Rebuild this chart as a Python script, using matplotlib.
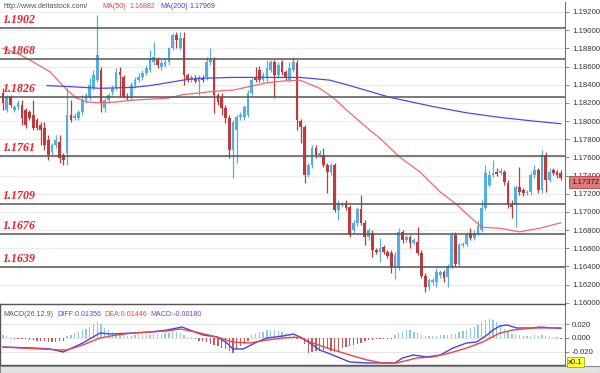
import matplotlib
matplotlib.use('Agg')
import matplotlib.pyplot as plt
import numpy as np

plt.rcParams['axes.unicode_minus'] = False

# ---- candle data (EUR/USD style, one row = 10 candles) ----
opens = [
    1.1831, 1.1812, 1.1826, 1.1812, 1.1815, 1.1818, 1.1812, 1.1810, 1.1807, 1.1801,
    1.1796, 1.1792, 1.1779, 1.1766, 1.1774, 1.1777, 1.1763, 1.1765, 1.1807, 1.1803,
    1.1803, 1.1810, 1.1823, 1.1826, 1.1836, 1.1845, 1.1856, 1.1814, 1.1823, 1.1832,
    1.1836, 1.1854, 1.1848, 1.1826, 1.1826, 1.1840, 1.1845, 1.1848, 1.1853, 1.1856,
    1.1865, 1.1867, 1.1859, 1.1862, 1.1865, 1.1880, 1.1895, 1.1880, 1.1891, 1.1851,
    1.1845, 1.1847, 1.1843, 1.1847, 1.1848, 1.1865, 1.1867, 1.1829, 1.1826, 1.1814,
    1.1803, 1.1768, 1.1790, 1.1804, 1.1804, 1.1807, 1.1831, 1.1847, 1.1856, 1.1845,
    1.1847, 1.1856, 1.1865, 1.1851, 1.1865, 1.1854, 1.1845, 1.1856, 1.1864, 1.1800,
    1.1793, 1.1741, 1.1752, 1.1770, 1.1763, 1.1763, 1.1752, 1.1744, 1.1752, 1.1702,
    1.1708, 1.1710, 1.1705, 1.1680, 1.1688, 1.1703, 1.1688, 1.1672, 1.1677, 1.1658,
    1.1656, 1.1661, 1.1656, 1.1655, 1.1638, 1.1639, 1.1678, 1.1669, 1.1672, 1.1666,
    1.1667, 1.1655, 1.1629, 1.1617, 1.1623, 1.1623, 1.1630, 1.1634, 1.1628, 1.1640,
    1.1674, 1.1643, 1.1664, 1.1665, 1.1677, 1.1671, 1.1677, 1.1680, 1.1704, 1.1730,
    1.1741, 1.1744, 1.1743, 1.1744, 1.1732, 1.1708, 1.1708, 1.1727, 1.1724, 1.1721,
    1.1722, 1.1741, 1.1746, 1.1724, 1.1763, 1.1735, 1.1746, 1.1744, 1.1743,
]
highs = [
    1.1836, 1.1829, 1.1829, 1.1818, 1.1823, 1.1823, 1.1814, 1.1812, 1.1823, 1.1803,
    1.1799, 1.1799, 1.1785, 1.1776, 1.1785, 1.1785, 1.1765, 1.1836, 1.1823, 1.1809,
    1.1812, 1.1829, 1.1831, 1.1847, 1.1856, 1.1917, 1.1859, 1.1825, 1.1831, 1.1840,
    1.1858, 1.1859, 1.1851, 1.1831, 1.1843, 1.1848, 1.1853, 1.1856, 1.1862, 1.1878,
    1.1887, 1.1871, 1.1867, 1.1869, 1.1881, 1.1897, 1.1898, 1.1898, 1.1898, 1.1853,
    1.1851, 1.1851, 1.1851, 1.1851, 1.1871, 1.1880, 1.1871, 1.1831, 1.1831, 1.1818,
    1.1807, 1.1801, 1.1807, 1.1810, 1.1818, 1.1834, 1.1847, 1.1859, 1.1861, 1.1854,
    1.1867, 1.1867, 1.1867, 1.1865, 1.1867, 1.1856, 1.1865, 1.1871, 1.1867, 1.1802,
    1.1796, 1.1754, 1.1774, 1.1774, 1.1768, 1.1770, 1.1754, 1.1754, 1.1754, 1.1713,
    1.1711, 1.1713, 1.1708, 1.1691, 1.1705, 1.1719, 1.1691, 1.1682, 1.1680, 1.1660,
    1.1671, 1.1664, 1.1658, 1.1658, 1.1656, 1.1682, 1.1680, 1.1674, 1.1674, 1.1671,
    1.1683, 1.1658, 1.1633, 1.1627, 1.1627, 1.1638, 1.1636, 1.1636, 1.1643, 1.1678,
    1.1678, 1.1666, 1.1667, 1.1678, 1.1682, 1.1680, 1.1691, 1.1713, 1.1752, 1.1746,
    1.1757, 1.1748, 1.1748, 1.1746, 1.1735, 1.1713, 1.1730, 1.1749, 1.1726, 1.1724,
    1.1744, 1.1752, 1.1748, 1.1768, 1.1766, 1.1748, 1.1748, 1.1746, 1.1746,
]
lows = [
    1.1812, 1.1810, 1.1815, 1.1810, 1.1812, 1.1796, 1.1792, 1.1801, 1.1790, 1.1790,
    1.1774, 1.1768, 1.1757, 1.1763, 1.1770, 1.1754, 1.1752, 1.1752, 1.1799, 1.1801,
    1.1801, 1.1807, 1.1820, 1.1823, 1.1834, 1.1843, 1.1810, 1.1810, 1.1820, 1.1829,
    1.1834, 1.1826, 1.1825, 1.1823, 1.1823, 1.1836, 1.1843, 1.1845, 1.1851, 1.1854,
    1.1862, 1.1858, 1.1856, 1.1859, 1.1862, 1.1878, 1.1880, 1.1878, 1.1840, 1.1843,
    1.1843, 1.1842, 1.1829, 1.1843, 1.1845, 1.1862, 1.1809, 1.1818, 1.1807, 1.1798,
    1.1759, 1.1737, 1.1754, 1.1801, 1.1801, 1.1804, 1.1829, 1.1843, 1.1843, 1.1843,
    1.1842, 1.1854, 1.1825, 1.1847, 1.1851, 1.1845, 1.1843, 1.1854, 1.1790, 1.1776,
    1.1732, 1.1738, 1.1748, 1.1759, 1.1760, 1.1749, 1.1721, 1.1741, 1.1700, 1.1691,
    1.1705, 1.1702, 1.1672, 1.1677, 1.1684, 1.1686, 1.1664, 1.1669, 1.1650, 1.1654,
    1.1645, 1.1654, 1.1649, 1.1633, 1.1626, 1.1636, 1.1666, 1.1667, 1.1660, 1.1664,
    1.1653, 1.1627, 1.1612, 1.1614, 1.1620, 1.1617, 1.1627, 1.1623, 1.1617, 1.1638,
    1.1640, 1.1640, 1.1661, 1.1662, 1.1669, 1.1669, 1.1674, 1.1678, 1.1702, 1.1727,
    1.1738, 1.1739, 1.1741, 1.1730, 1.1704, 1.1693, 1.1683, 1.1719, 1.1718, 1.1719,
    1.1719, 1.1737, 1.1721, 1.1721, 1.1722, 1.1733, 1.1741, 1.1737, 1.1735,
]
closes = [
    1.1820, 1.1826, 1.1818, 1.1815, 1.1820, 1.1803, 1.1796, 1.1803, 1.1792, 1.1792,
    1.1790, 1.1774, 1.1763, 1.1774, 1.1779, 1.1759, 1.1757, 1.1807, 1.1801, 1.1806,
    1.1810, 1.1823, 1.1829, 1.1840, 1.1851, 1.1873, 1.1820, 1.1823, 1.1829, 1.1836,
    1.1854, 1.1851, 1.1826, 1.1825, 1.1840, 1.1845, 1.1848, 1.1853, 1.1858, 1.1869,
    1.1871, 1.1862, 1.1864, 1.1865, 1.1880, 1.1895, 1.1889, 1.1891, 1.1851, 1.1845,
    1.1848, 1.1844, 1.1848, 1.1845, 1.1865, 1.1867, 1.1829, 1.1821, 1.1814, 1.1803,
    1.1768, 1.1799, 1.1804, 1.1807, 1.1815, 1.1831, 1.1845, 1.1845, 1.1845, 1.1851,
    1.1858, 1.1865, 1.1851, 1.1862, 1.1854, 1.1847, 1.1858, 1.1865, 1.1801, 1.1793,
    1.1741, 1.1752, 1.1770, 1.1763, 1.1765, 1.1752, 1.1744, 1.1752, 1.1702, 1.1710,
    1.1709, 1.1704, 1.1674, 1.1688, 1.1703, 1.1688, 1.1672, 1.1680, 1.1658, 1.1656,
    1.1660, 1.1656, 1.1651, 1.1638, 1.1653, 1.1678, 1.1669, 1.1672, 1.1666, 1.1669,
    1.1655, 1.1629, 1.1617, 1.1625, 1.1625, 1.1634, 1.1634, 1.1627, 1.1640, 1.1674,
    1.1643, 1.1664, 1.1665, 1.1674, 1.1671, 1.1677, 1.1684, 1.1704, 1.1743, 1.1741,
    1.1743, 1.1742, 1.1745, 1.1733, 1.1708, 1.1705, 1.1727, 1.1722, 1.1721, 1.1722,
    1.1741, 1.1746, 1.1724, 1.1763, 1.1735, 1.1744, 1.1743, 1.1741, 1.1737,
]

# moving averages (candle index, price)
ma50_idx = [0, 4.5, 8, 12.5, 17, 19.6, 22.3, 25.7, 30.2, 34.5, 39, 43.5, 47.7, 52.3,
            56.8, 61, 65.5, 70, 74.3, 78.8, 84, 87.5, 92, 97.3, 100, 105.3, 110.6,
            116, 120.4, 124, 127, 131.8, 137, 142.4, 148]
ma50_val = [1.1880, 1.1873, 1.1865, 1.1854, 1.1834, 1.1825, 1.1821, 1.1820, 1.1821,
            1.1823, 1.1824, 1.1825, 1.1829, 1.1831, 1.1833, 1.1834, 1.1838, 1.1842,
            1.1844, 1.1845, 1.1836, 1.1826, 1.1809, 1.1790, 1.1781, 1.1760, 1.1744,
            1.1722, 1.1708, 1.1694, 1.1683, 1.1682, 1.1678, 1.1682, 1.1688]
ma200_idx = [11.7, 17, 25.7, 34.5, 39, 43.5, 47.7, 52.3, 61, 78.8, 86.7, 92, 102.7,
             114, 123, 131.8, 140.6, 148]
ma200_val = [1.1839, 1.1838, 1.1836, 1.1837, 1.1839, 1.1842, 1.1845, 1.1847, 1.1848,
             1.1848, 1.1845, 1.1839, 1.1826, 1.1816, 1.1809, 1.1804, 1.1800, 1.1797]

levels = [1.1902, 1.1868, 1.1826, 1.1761, 1.1709, 1.1676, 1.1639]
price_ticks = [1.160, 1.162, 1.164, 1.166, 1.168, 1.170, 1.172, 1.174, 1.176,
               1.178, 1.180, 1.182, 1.184, 1.186, 1.188, 1.190, 1.192]
last_price = 1.17372

# MACD panel
macd_hist = [
    0.004, 0.003, 0.001, -0.001, -0.001, -0.001, -0.002, -0.003, -0.003, -0.004,
    -0.004, -0.005, -0.006, -0.006, -0.006, -0.005, -0.004, 0.003, 0.005, 0.007,
    0.009, 0.011, 0.013, 0.016, 0.019, 0.023, 0.020, 0.014, 0.011, 0.008,
    0.006, 0.005, 0.004, 0.003, 0.003, 0.004, 0.004, 0.004, 0.005, 0.005,
    0.006, 0.006, 0.006, 0.007, 0.007, 0.008, 0.008, 0.007, 0.004, 0.002,
    0.001, -0.002, -0.004, -0.005, -0.006, -0.008, -0.010, -0.012, -0.014, -0.016,
    -0.018, -0.022, -0.016, -0.012, -0.008, -0.005, 0.004, 0.006, 0.008, 0.009,
    0.011, 0.012, 0.011, 0.010, 0.009, 0.007, 0.005, 0.003, -0.002, -0.002,
    -0.008, -0.021, -0.020, -0.019, -0.018, -0.017, -0.016, -0.018, -0.020, -0.018,
    -0.014, -0.013, -0.012, -0.010, -0.008, -0.007, -0.005, -0.003, -0.003, -0.002,
    -0.002, -0.002, -0.001, -0.001, 0.004, 0.007, 0.009, 0.011, 0.011, 0.009,
    0.007, 0.004, 0.003, 0.003, 0.003, 0.003, 0.004, 0.005, 0.005, 0.006,
    0.006, 0.008, 0.010, 0.012, 0.014, 0.016, 0.019, 0.022, 0.026, 0.027,
    0.026, 0.023, 0.018, 0.013, 0.009, 0.006, 0.005, 0.004, 0.003, 0.003,
    0.003, 0.004, 0.003, 0.004, 0.003, 0.003, 0.002, 0.001, -0.0018,
]
diff_idx = [0, 8, 12.5, 16, 21.2, 25.7, 28.4, 34.5, 39, 43.5, 47.5, 49.6, 53, 56.8,
            59.4, 61, 63.7, 67.4, 70, 74.3, 77, 78.8, 81.4, 84, 87.5, 92, 96.6,
            100.8, 104, 106, 108.8, 112.5, 116, 119.4, 123, 125.7, 128.4, 130,
            131.8, 133.7, 136.3, 140.6, 142.4, 148]
diff_val = [-0.0129, -0.0143, -0.0157, -0.0200, -0.0071, 0.0071, 0.0057, 0.0071,
            0.0086, 0.0114, 0.0157, 0.0114, 0.0043, 0.0014, -0.0071, -0.0157,
            -0.0157, -0.0057, 0.0000, 0.0029, 0.0057, 0.0014, -0.0071, -0.0171,
            -0.0243, -0.0343, -0.0357, -0.0357, -0.0357, -0.0286, -0.0243, -0.0271,
            -0.0243, -0.0143, -0.0071, -0.0057, 0.0043, 0.0114, 0.0171, 0.0186,
            0.0143, 0.0143, 0.0157, 0.0136]
dea_idx = [0, 15.1, 17, 21.2, 25.7, 30.2, 34.5, 43.5, 47, 52.3, 56.8, 61, 65.5, 70,
           74.3, 78.8, 81.4, 86, 92, 96.6, 100.8, 104.5, 109.8, 114, 118.6, 123,
           127.3, 131.8, 135.3, 140.6, 148]
dea_val = [-0.0129, -0.0171, -0.0171, -0.0100, 0.0000, 0.0043, 0.0071, 0.0100,
           0.0129, 0.0071, 0.0014, -0.0057, -0.0071, -0.0029, 0.0000, 0.0014,
           -0.0057, -0.0143, -0.0243, -0.0314, -0.0357, -0.0357, -0.0286, -0.0271,
           -0.0214, -0.0143, -0.0057, 0.0071, 0.0114, 0.0143, 0.0145]
macd_ticks = [-0.02, 0.0, 0.02]

UP = '#55aee2'
DOWN = '#c0393b'
W, H = 600, 373
SMALL = dict(fontsize=5.1, family='Liberation Sans', va='center', ha='left')

fig = plt.figure(figsize=(6, 3.73), dpi=100)
fig.patch.set_facecolor('white')

# ---------------- main price panel ----------------
ax = fig.add_axes([0, (H - 303) / H, 565 / W, 301 / H])
x = np.arange(len(closes))
o = np.array(opens); c = np.array(closes)
hi = np.array(highs); lo = np.array(lows)
up = c >= o
col = np.where(up, UP, DOWN)

for t in price_ticks:
    ax.axhline(t, color='#ececec', lw=0.8, zorder=0)

ax.vlines(x, lo, hi, colors=col, lw=0.9, zorder=2)
body_h = np.maximum(np.abs(c - o), 0.00006)
ax.bar(x, body_h, bottom=np.minimum(o, c), width=0.72, color=col, lw=0, zorder=3)

ax.plot(ma50_idx, ma50_val, color='#f06a6a', lw=0.9, zorder=4)
ax.plot(ma200_idx, ma200_val, color='#4a4af0', lw=0.9, zorder=4)

for lv in levels:
    ax.axhline(lv, color='#555555', lw=1.1, zorder=5)
    ax.text(0.004, lv + 0.00022, f'{lv:.4f}', color='#ee1c24', fontsize=8.6,
            fontweight='bold', fontstyle='italic', family='Liberation Serif',
            va='bottom', ha='left', transform=ax.get_yaxis_transform(),
            zorder=6)

ax.set_xlim(-0.8, 149.1)
ax.set_ylim(1.15997, 1.1931)
ax.yaxis.tick_right()
ax.set_yticks(price_ticks)
ax.set_yticklabels([f'{t:.5f}' for t in price_ticks])
ax.tick_params(axis='y', length=3, width=0.6, color='#777777', labelsize=5.6,
               labelcolor='#333333', pad=2)
for lab in ax.get_yticklabels():
    lab.set_family('Liberation Sans')
ax.set_xticks([])
for s in ['top', 'left', 'bottom']:
    ax.spines[s].set_visible(False)
ax.spines['right'].set_color('#777777')
ax.spines['right'].set_linewidth(0.8)

# last price tag, sitting just under the price level like the original
ax.annotate(f'{last_price:.5f}', xy=(1.0, last_price), xycoords=ax.get_yaxis_transform(),
            xytext=(4.5, -3), textcoords='offset points', fontsize=5.6,
            family='Liberation Sans', color='#222222', va='center', ha='left',
            bbox=dict(boxstyle='square,pad=0.3', fc='#e07a7a', ec='#b84040', lw=0.6),
            zorder=7, annotation_clip=False)

# header
hy = 1 - 6 / H
fig.text(3 / W, hy, 'http://www.deltastock.com/', color='#555555', **SMALL)
fig.text(102 / W, hy, 'MA(50)', color='#f04040', **SMALL)
fig.text(130 / W, hy, '1.16882', color='#f04040', **SMALL)
fig.text(160 / W, hy, 'MA(200)', color='#4040f0', **SMALL)
fig.text(190 / W, hy, '1.17969', color='#4040f0', **SMALL)

# ---------------- MACD panel ----------------
mx = fig.add_axes([0, (H - 365) / H, 565 / W, 61 / H])
hist = np.array(macd_hist)
mx.bar(x, hist, width=0.35, color=np.where(hist >= 0, '#8ec7e8', '#c85a5a'), lw=0, zorder=2)
for t in macd_ticks:
    mx.axhline(t, color='#e6e6e6', lw=0.8, zorder=0)
mx.plot(diff_idx, diff_val, color='#4444ee', lw=1.0, zorder=3)
mx.plot(dea_idx, dea_val, color='#ee4444', lw=1.0, zorder=3)
mx.set_xlim(-0.8, 149.1)
mx.set_ylim(-0.0386, 0.0486)
mx.yaxis.tick_right()
mx.set_yticks(macd_ticks)
mx.set_yticklabels([f'{t:.3f}' for t in macd_ticks])
mx.tick_params(axis='y', length=3, width=0.6, color='#777777', labelsize=5.6,
               labelcolor='#333333', pad=2)
for lab in mx.get_yticklabels():
    lab.set_family('Liberation Sans')
mx.set_xticks([])
for s in ['top', 'bottom', 'left']:
    mx.spines[s].set_color('#555555')
    mx.spines[s].set_linewidth(1.0)
mx.spines['right'].set_color('#777777')
mx.spines['right'].set_linewidth(0.8)

my = 1 - 315 / H
fig.text(3 / W, my, 'MACD(26.12.9)', color='#555555', **SMALL)
fig.text(57 / W, my, 'DIFF:0.01356', color='#4444ee', **SMALL)
fig.text(104 / W, my, 'DEA:0.01446', color='#ee4444', **SMALL)
fig.text(150 / W, my, 'MACD:-0.00180', color='#8040c0', **SMALL)

fig.text(568 / W, 1 - 362 / H, 'x0.1', fontsize=5.6, color='#222222', va='center',
         family='Liberation Sans',
         bbox=dict(boxstyle='square,pad=0.15', fc='#ffff33', ec='#999900', lw=0.5))

# bottom strip
fig.patches.append(plt.Rectangle((0, 0), 1, 7 / H, transform=fig.transFigure,
                                 fc='#e4e4e4', ec='#888888', lw=0.8))

fig.savefig('out.png', dpi=100)
